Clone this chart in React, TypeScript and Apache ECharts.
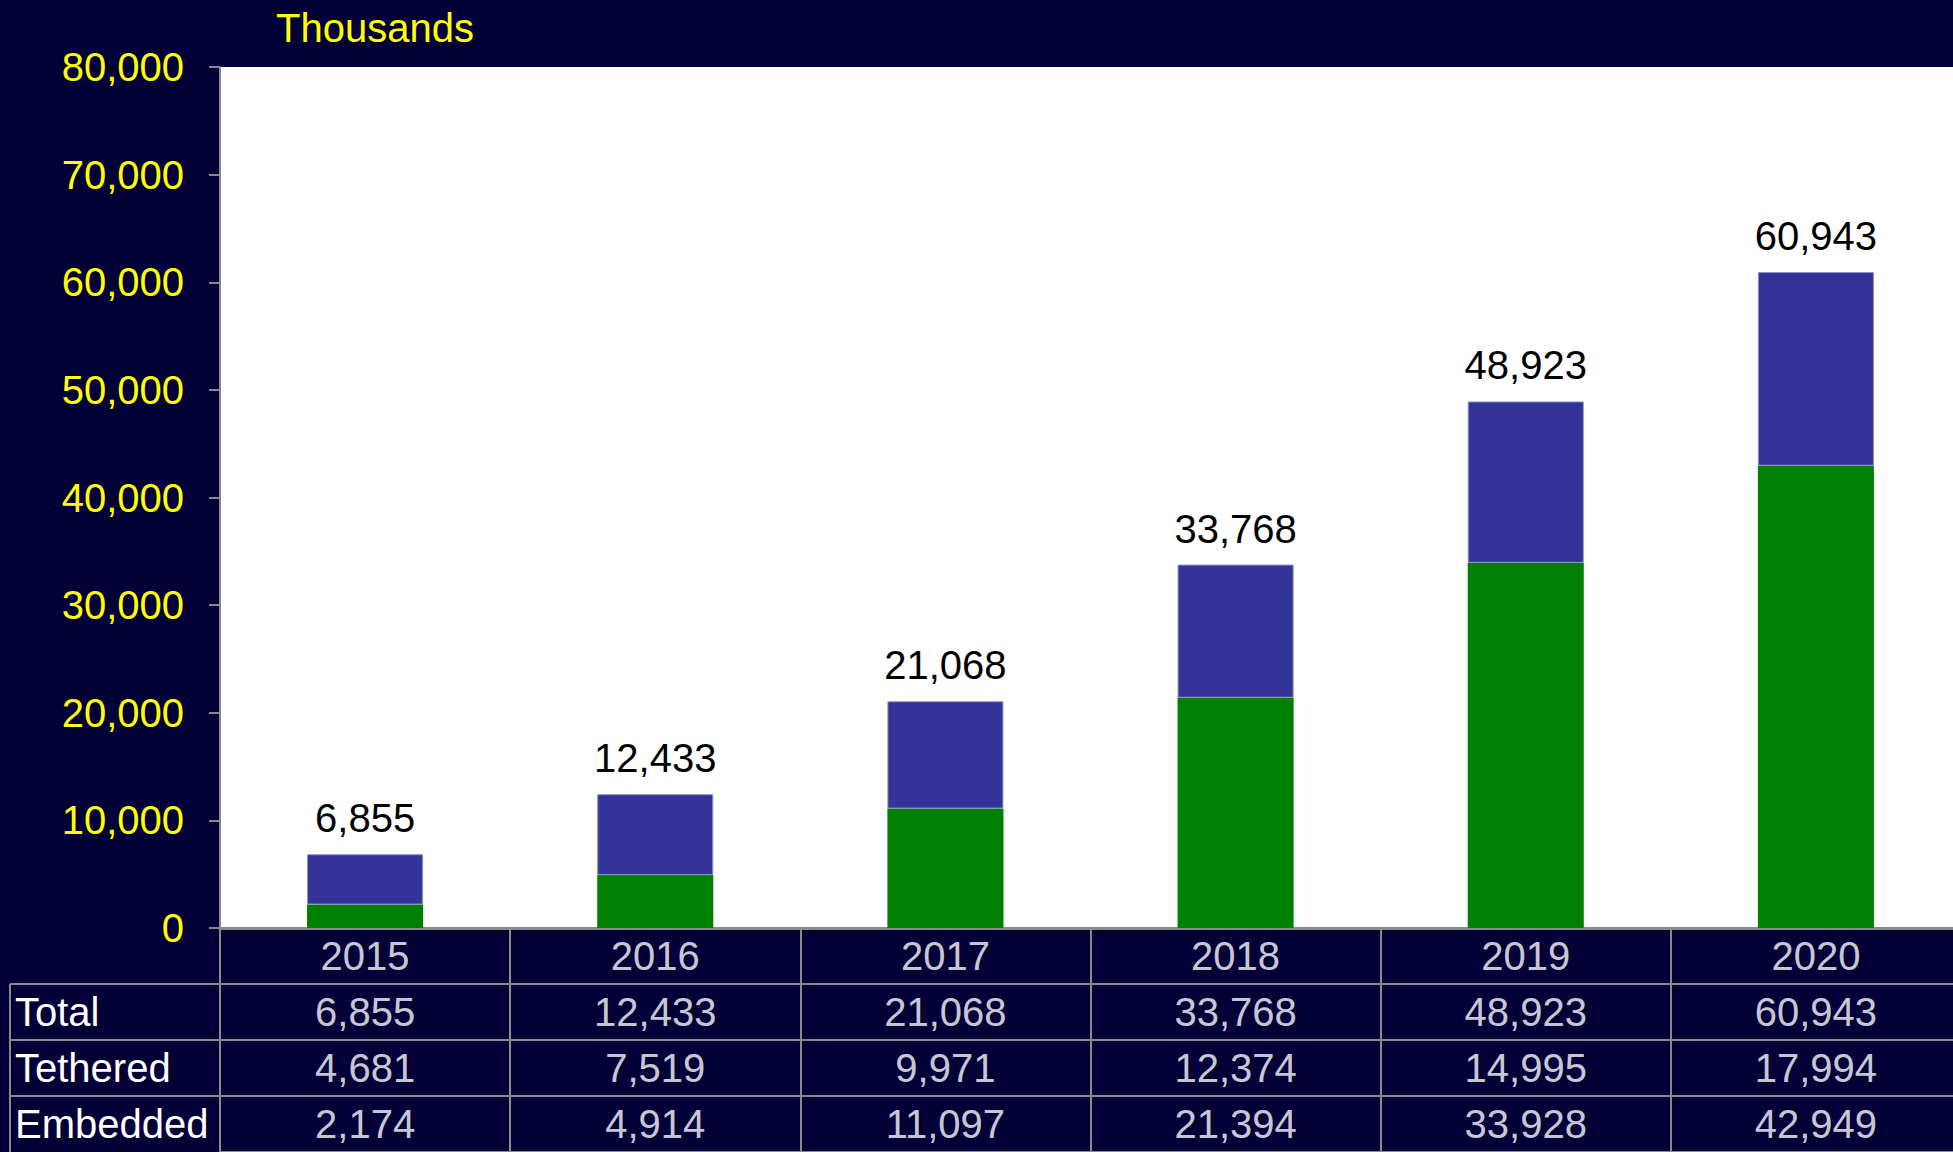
import React, { useEffect, useRef } from "react";
import * as echarts from "echarts";

const years = ["2015", "2016", "2017", "2018", "2019", "2020"];
const totals = [6855, 12433, 21068, 33768, 48923, 60943];
const tethered = [4681, 7519, 9971, 12374, 14995, 17994];
const embedded = [2174, 4914, 11097, 21394, 33928, 42949];
const rowNames = ["", "Total", "Tethered", "Embedded"];
const unitLabel = "Thousands";

// the plot area in the original runs slightly past the right edge of the picture
const W = 1961;
const H = 1152;
const PLOT_LEFT = 220;
const PLOT_TOP = 67;
const PLOT_BOTTOM = 928;
const ROW_H = (H - PLOT_BOTTOM) / 4;
const TABLE_LEFT = 10;
const BG = "#030037";
const LINE = "#8a8a8a";
const FONT = "'Liberation Sans', Arial, sans-serif";

const fmt = (v: number) => v.toLocaleString("en-US");

export default function App() {
  const ref = useRef<HTMLDivElement>(null);
  useEffect(() => {
    if (!ref.current) return;
    const chart = echarts.init(ref.current, null, { renderer: "svg" });
    const cells: any[] = [];
    years.forEach((y, i) => {
      cells.push({ value: [i, 0], text: y });
      cells.push({ value: [i, 1], text: fmt(totals[i]) });
      cells.push({ value: [i, 2], text: fmt(tethered[i]) });
      cells.push({ value: [i, 3], text: fmt(embedded[i]) });
    });
    const leftLines: any[] = [];
    for (let r = 1; r < 4; r++) {
      const y = PLOT_BOTTOM + ROW_H * r;
      leftLines.push({
        type: "line",
        shape: { x1: TABLE_LEFT, y1: y, x2: PLOT_LEFT, y2: y },
        style: { stroke: LINE, lineWidth: 2 },
      });
    }
    leftLines.push({
      type: "line",
      shape: { x1: TABLE_LEFT, y1: PLOT_BOTTOM + ROW_H, x2: TABLE_LEFT, y2: H },
      style: { stroke: LINE, lineWidth: 2 },
    });
    chart.setOption({
      animation: false,
      backgroundColor: BG,
      textStyle: { fontFamily: FONT },
      title: {
        text: unitLabel,
        left: 271,
        top: 3,
        textStyle: { color: "#ffff00", fontSize: 40, fontWeight: "normal", fontFamily: FONT },
      },
      graphic: leftLines,
      grid: [
        {
          left: PLOT_LEFT,
          right: 0,
          top: PLOT_TOP,
          bottom: H - PLOT_BOTTOM,
          show: true,
          backgroundColor: "#ffffff",
          borderWidth: 0,
        },
        {
          left: PLOT_LEFT,
          right: 0,
          top: PLOT_BOTTOM,
          bottom: 0,
          show: false,
        },
      ],
      xAxis: [
        {
          type: "category",
          gridIndex: 0,
          data: years,
          axisLine: { show: true, lineStyle: { color: LINE, width: 3 } },
          axisTick: { show: false },
          axisLabel: { show: false },
        },
        {
          type: "category",
          gridIndex: 1,
          data: years,
          position: "top",
          axisLine: { show: false },
          axisTick: { show: false },
          axisLabel: { show: false },
          splitLine: { show: true, interval: 0, lineStyle: { color: LINE, width: 2 } },
        },
      ],
      yAxis: [
        {
          type: "value",
          gridIndex: 0,
          min: 0,
          max: 80000,
          interval: 10000,
          axisLine: { show: true, lineStyle: { color: LINE, width: 2 } },
          axisTick: { show: true, length: 11, lineStyle: { color: LINE, width: 2 } },
          splitLine: { show: false },
          axisLabel: {
            color: "#ffff00",
            fontSize: 40,
            fontFamily: FONT,
            margin: 36,
            formatter: (v: number) => fmt(v),
          },
        },
        {
          type: "category",
          gridIndex: 1,
          inverse: true,
          data: rowNames,
          axisLine: { show: true, lineStyle: { color: LINE, width: 2 } },
          axisTick: { show: false },
          splitLine: { show: true, interval: 0, lineStyle: { color: LINE, width: 2 } },
          axisLabel: {
            color: "#ffffff",
            fontSize: 40,
            fontFamily: FONT,
            align: "left",
            margin: PLOT_LEFT - 15,
            interval: 0,
          },
        },
      ],
      series: [
        {
          name: "Embedded",
          type: "bar",
          stack: "units",
          xAxisIndex: 0,
          yAxisIndex: 0,
          data: embedded,
          barWidth: "40%",
          itemStyle: { color: "#008000" },
        },
        {
          name: "Tethered",
          type: "bar",
          stack: "units",
          xAxisIndex: 0,
          yAxisIndex: 0,
          data: tethered,
          barWidth: "40%",
          itemStyle: { color: "#333399", borderColor: "#8f8fc8", borderWidth: 1 },
          label: {
            show: true,
            position: "top",
            distance: 16,
            color: "#000000",
            fontSize: 40,
            fontFamily: FONT,
            formatter: (p: any) => fmt(totals[p.dataIndex]),
          },
        },
        {
          name: "table",
          type: "scatter",
          xAxisIndex: 1,
          yAxisIndex: 1,
          symbolSize: 0,
          data: cells,
          label: {
            show: true,
            position: "inside",
            color: "#ffffff",
            fontSize: 40,
            fontFamily: FONT,
            formatter: (p: any) => p.data.text,
          },
          silent: true,
        },
      ],
    });
    return () => chart.dispose();
  }, []);
  return (
    <div
      ref={ref}
      style={{ position: "fixed", left: 0, top: 0, width: W, height: H }}
    />
  );
}
